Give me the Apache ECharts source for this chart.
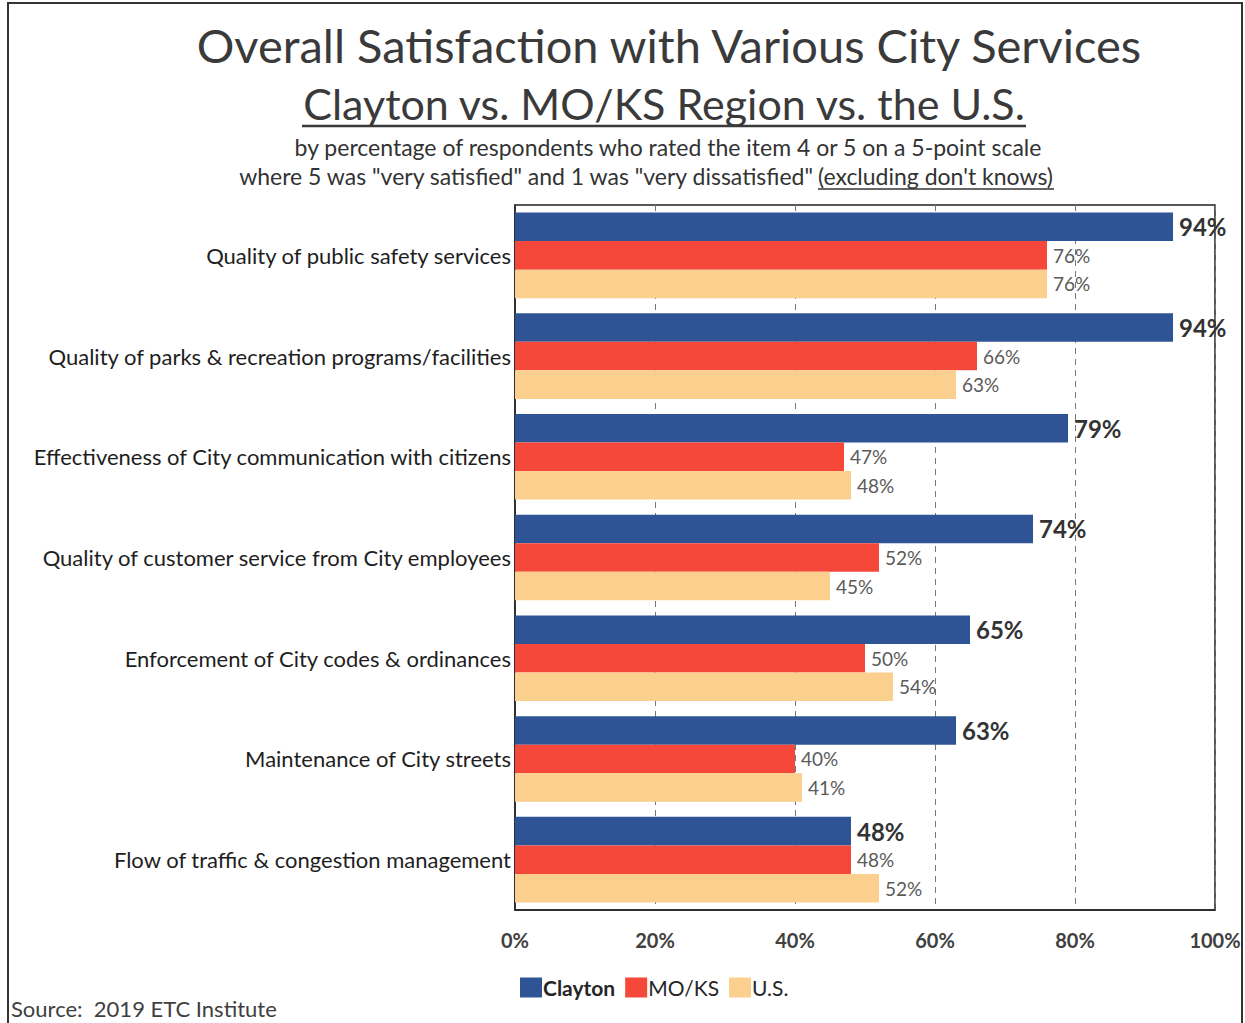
<!DOCTYPE html>
<html>
<head>
<meta charset="utf-8">
<script src="https://cdn.jsdelivr.net/npm/echarts@6/dist/echarts.min.js"></script>
<style>html,body{margin:0;padding:0;background:#fff;}#chart{width:1245px;height:1023px;}</style>
</head>
<body>
<div id="chart"></div>
<script>
var categories = [
  'Quality of public safety services',
  'Quality of parks & recreation programs/facilities',
  'Effectiveness of City communication with citizens',
  'Quality of customer service from City employees',
  'Enforcement of City codes & ordinances',
  'Maintenance of City streets',
  'Flow of traffic & congestion management'
];
var clayton = [94, 94, 79, 74, 65, 63, 48];
var moks = [76, 66, 47, 52, 50, 40, 48];
var us = [76, 63, 48, 45, 54, 41, 52];
var seriesNames = ['Clayton', 'MO/KS', 'U.S.'];
var xTicks = [0, 20, 40, 60, 80, 100];

var FONT = 'Lato, "Open Sans", sans-serif';
var chart = echarts.init(document.getElementById('chart'), null, {renderer: 'svg'});

function bar(name, data, color, bold) {
  return {
    name: name, type: 'bar', data: data,
    barGap: '0%', barCategoryGap: '15%',
    itemStyle: {color: color},
    label: {
      show: true, position: 'right', distance: 6,
      formatter: '{c}%', fontFamily: FONT,
      fontSize: bold ? 24 : 19, fontWeight: bold ? 'bold' : 'normal',
      color: bold ? '#333333' : '#5a5a5a'
    }
  };
}

chart.setOption({
  backgroundColor: '#ffffff',
  animation: false,
  grid: {left: 515, right: 30, top: 205, bottom: 113, show: true, borderColor: '#222', borderWidth: 1.5, containLabel: false},
  xAxis: {
    type: 'value', min: xTicks[0], max: xTicks[xTicks.length - 1], interval: 20,
    axisLine: {show: true, lineStyle: {color: '#222', width: 1.5}},
    axisTick: {show: false},
    axisLabel: {formatter: '{value}%', fontFamily: FONT, fontSize: 20, fontWeight: 'bold', color: '#404040', margin: 20},
    splitLine: {show: true, lineStyle: {color: '#777', type: [6, 5], width: 1}}
  },
  yAxis: {
    type: 'category', data: categories, inverse: true,
    axisLine: {show: true, lineStyle: {color: '#222', width: 1.5}},
    axisTick: {show: false},
    axisLabel: {fontFamily: FONT, fontSize: 22, color: '#1e1e1e', margin: 4}
  },
  legend: {
    data: [
      {name: seriesNames[0], textStyle: {fontWeight: 'bold'}},
      {name: seriesNames[1]},
      {name: seriesNames[2]}
    ],
    left: 515, top: 972, icon: 'rect', itemWidth: 22, itemHeight: 20, itemGap: 10,
    textStyle: {fontFamily: FONT, fontSize: 21, color: '#262626', padding: [0, 0, 0, -4]}
  },
  series: [
    bar(seriesNames[0], clayton, '#2E5496', true),
    bar(seriesNames[1], moks, '#F5473A', false),
    bar(seriesNames[2], us, '#FBCF8D', false)
  ],
  graphic: [
    {type: 'rect', shape: {x: 8, y: 3, width: 1234, height: 1040}, style: {fill: 'none', stroke: '#333', lineWidth: 2}, silent: true},
    {type: 'text', x: 669, y: 45, style: {text: 'Overall Satisfaction with Various City Services', fontFamily: FONT, fontSize: 47, fill: '#3a3a3a', textAlign: 'center', align: 'center', textVerticalAlign: 'middle', verticalAlign: 'middle'}},
    {type: 'text', x: 664, y: 103, style: {text: 'Clayton vs. MO/KS Region vs. the U.S.', fontFamily: FONT, fontSize: 43, fill: '#3a3a3a', textAlign: 'center', align: 'center', textVerticalAlign: 'middle', verticalAlign: 'middle'}},
    {type: 'line', shape: {x1: 302, y1: 126, x2: 1026, y2: 126}, style: {stroke: '#3a3a3a', lineWidth: 2.5}},
    {type: 'text', x: 668, y: 147, style: {text: 'by percentage of respondents who rated the item 4 or 5 on a 5-point scale', fontFamily: FONT, fontSize: 23, fill: '#333', textAlign: 'center', align: 'center', textVerticalAlign: 'middle', verticalAlign: 'middle'}},
    {type: 'text', x: 813, y: 176, style: {text: 'where 5 was "very satisfied" and 1 was "very dissatisfied"', fontFamily: FONT, fontSize: 23, fill: '#333', textAlign: 'right', align: 'right', textVerticalAlign: 'middle', verticalAlign: 'middle'}},
    {type: 'text', x: 818, y: 176, style: {text: "(excluding don't knows)", fontFamily: FONT, fontSize: 23, fill: '#333', textAlign: 'left', align: 'left', textVerticalAlign: 'middle', verticalAlign: 'middle'}},
    {type: 'line', shape: {x1: 818, y1: 189, x2: 1054, y2: 189}, style: {stroke: '#333', lineWidth: 1.5}},
    {type: 'text', x: 11, y: 1008, style: {text: 'Source:  2019 ETC Institute', fontFamily: FONT, fontSize: 22, fill: '#404040', textAlign: 'left', align: 'left', textVerticalAlign: 'middle', verticalAlign: 'middle'}}
  ]
});
</script>
</body>
</html>
